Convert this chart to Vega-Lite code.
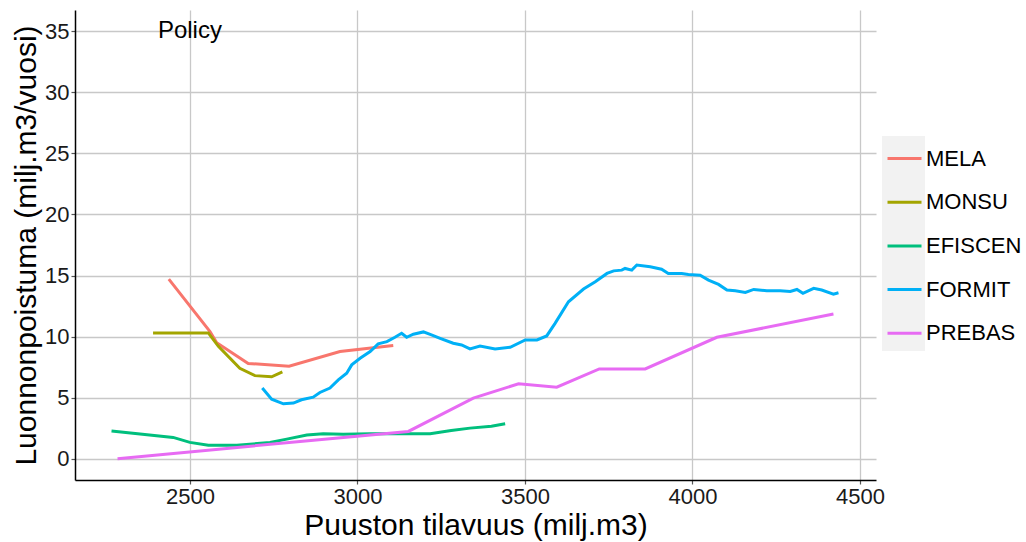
{
  "$schema": "https://vega.github.io/schema/vega-lite/v6.json",
  "width": 801,
  "height": 470,
  "autosize": {"type": "none"},
  "padding": {"left": 75, "top": 10, "right": 150, "bottom": 62},
  "background": "white",
  "config": {
    "view": {"stroke": null},
    "font": "Liberation Sans",
    "axis": {
      "domainColor": "#000000",
      "domainWidth": 1.5,
      "gridColor": "#c8c8c8",
      "gridWidth": 1.3,
      "tickColor": "#555555",
      "tickSize": 4,
      "tickWidth": 1.2,
      "labelFont": "Liberation Sans",
      "labelFontSize": 22,
      "labelColor": "#1a1a1a",
      "labelPadding": 2,
      "titleFont": "Liberation Sans",
      "titleFontSize": 30,
      "titleFontWeight": "normal",
      "titleColor": "#000000"
    }
  },
  "datasets": {
    "lines": [
      {"m": "MELA", "x": 2437, "y": 14.7},
      {"m": "MELA", "x": 2560, "y": 10.4},
      {"m": "MELA", "x": 2580, "y": 9.5},
      {"m": "MELA", "x": 2674, "y": 7.8},
      {"m": "MELA", "x": 2796, "y": 7.57},
      {"m": "MELA", "x": 2948, "y": 8.77},
      {"m": "MELA", "x": 3107, "y": 9.26},
      {"m": "MONSU", "x": 2390, "y": 10.3},
      {"m": "MONSU", "x": 2555, "y": 10.3},
      {"m": "MONSU", "x": 2585, "y": 9.2},
      {"m": "MONSU", "x": 2649, "y": 7.4},
      {"m": "MONSU", "x": 2694, "y": 6.8},
      {"m": "MONSU", "x": 2744, "y": 6.7},
      {"m": "MONSU", "x": 2776, "y": 7.1},
      {"m": "EFISCEN", "x": 2266, "y": 2.26},
      {"m": "EFISCEN", "x": 2450, "y": 1.74},
      {"m": "EFISCEN", "x": 2500, "y": 1.33},
      {"m": "EFISCEN", "x": 2555, "y": 1.09},
      {"m": "EFISCEN", "x": 2640, "y": 1.09},
      {"m": "EFISCEN", "x": 2739, "y": 1.33},
      {"m": "EFISCEN", "x": 2789, "y": 1.6},
      {"m": "EFISCEN", "x": 2849, "y": 1.93},
      {"m": "EFISCEN", "x": 2898, "y": 2.04},
      {"m": "EFISCEN", "x": 2958, "y": 1.99},
      {"m": "EFISCEN", "x": 3038, "y": 2.04},
      {"m": "EFISCEN", "x": 3217, "y": 2.04},
      {"m": "EFISCEN", "x": 3280, "y": 2.3},
      {"m": "EFISCEN", "x": 3336, "y": 2.5},
      {"m": "EFISCEN", "x": 3400, "y": 2.65},
      {"m": "EFISCEN", "x": 3441, "y": 2.86},
      {"m": "FORMIT", "x": 2716, "y": 5.78},
      {"m": "FORMIT", "x": 2744, "y": 4.87},
      {"m": "FORMIT", "x": 2779, "y": 4.49},
      {"m": "FORMIT", "x": 2809, "y": 4.55},
      {"m": "FORMIT", "x": 2833, "y": 4.82},
      {"m": "FORMIT", "x": 2868, "y": 5.04},
      {"m": "FORMIT", "x": 2888, "y": 5.42},
      {"m": "FORMIT", "x": 2918, "y": 5.78},
      {"m": "FORMIT", "x": 2943, "y": 6.45},
      {"m": "FORMIT", "x": 2968, "y": 7.0},
      {"m": "FORMIT", "x": 2983, "y": 7.68},
      {"m": "FORMIT", "x": 3008, "y": 8.22},
      {"m": "FORMIT", "x": 3038, "y": 8.77},
      {"m": "FORMIT", "x": 3062, "y": 9.4},
      {"m": "FORMIT", "x": 3088, "y": 9.58},
      {"m": "FORMIT", "x": 3112, "y": 9.94},
      {"m": "FORMIT", "x": 3132, "y": 10.27},
      {"m": "FORMIT", "x": 3147, "y": 9.94},
      {"m": "FORMIT", "x": 3167, "y": 10.19},
      {"m": "FORMIT", "x": 3197, "y": 10.38},
      {"m": "FORMIT", "x": 3221, "y": 10.13},
      {"m": "FORMIT", "x": 3247, "y": 9.85},
      {"m": "FORMIT", "x": 3286, "y": 9.45},
      {"m": "FORMIT", "x": 3311, "y": 9.31},
      {"m": "FORMIT", "x": 3336, "y": 8.99},
      {"m": "FORMIT", "x": 3366, "y": 9.23},
      {"m": "FORMIT", "x": 3411, "y": 8.99},
      {"m": "FORMIT", "x": 3456, "y": 9.12},
      {"m": "FORMIT", "x": 3501, "y": 9.72},
      {"m": "FORMIT", "x": 3536, "y": 9.72},
      {"m": "FORMIT", "x": 3565, "y": 10.05},
      {"m": "FORMIT", "x": 3590, "y": 11.08},
      {"m": "FORMIT", "x": 3630, "y": 12.85},
      {"m": "FORMIT", "x": 3675, "y": 13.89},
      {"m": "FORMIT", "x": 3710, "y": 14.49},
      {"m": "FORMIT", "x": 3745, "y": 15.17},
      {"m": "FORMIT", "x": 3765, "y": 15.38},
      {"m": "FORMIT", "x": 3789, "y": 15.44},
      {"m": "FORMIT", "x": 3799, "y": 15.58},
      {"m": "FORMIT", "x": 3819, "y": 15.44},
      {"m": "FORMIT", "x": 3834, "y": 15.86},
      {"m": "FORMIT", "x": 3874, "y": 15.71},
      {"m": "FORMIT", "x": 3908, "y": 15.52},
      {"m": "FORMIT", "x": 3928, "y": 15.17},
      {"m": "FORMIT", "x": 3968, "y": 15.17},
      {"m": "FORMIT", "x": 3988, "y": 15.09},
      {"m": "FORMIT", "x": 4023, "y": 15.03},
      {"m": "FORMIT", "x": 4048, "y": 14.62},
      {"m": "FORMIT", "x": 4078, "y": 14.27},
      {"m": "FORMIT", "x": 4103, "y": 13.81},
      {"m": "FORMIT", "x": 4128, "y": 13.75},
      {"m": "FORMIT", "x": 4158, "y": 13.62},
      {"m": "FORMIT", "x": 4183, "y": 13.86},
      {"m": "FORMIT", "x": 4222, "y": 13.75},
      {"m": "FORMIT", "x": 4262, "y": 13.75},
      {"m": "FORMIT", "x": 4292, "y": 13.7},
      {"m": "FORMIT", "x": 4312, "y": 13.86},
      {"m": "FORMIT", "x": 4330, "y": 13.54},
      {"m": "FORMIT", "x": 4362, "y": 13.95},
      {"m": "FORMIT", "x": 4386, "y": 13.81},
      {"m": "FORMIT", "x": 4421, "y": 13.48},
      {"m": "FORMIT", "x": 4436, "y": 13.59},
      {"m": "PREBAS", "x": 2284, "y": 0.0},
      {"m": "PREBAS", "x": 3152, "y": 2.23},
      {"m": "PREBAS", "x": 3346, "y": 4.96},
      {"m": "PREBAS", "x": 3481, "y": 6.13},
      {"m": "PREBAS", "x": 3595, "y": 5.85},
      {"m": "PREBAS", "x": 3722, "y": 7.35},
      {"m": "PREBAS", "x": 3859, "y": 7.35},
      {"m": "PREBAS", "x": 4073, "y": 9.94},
      {"m": "PREBAS", "x": 4421, "y": 11.85}
    ],
    "keys": [
      {"k": "k1"}, {"k": "k2"}, {"k": "k3"}, {"k": "k4"}, {"k": "k5"}
    ],
    "notes": [
      {"x": 2500, "y": 35, "label": "Policy"}
    ]
  },
  "layer": [
    {
      "data": {"name": "keys"},
      "mark": {"type": "square", "opacity": 0},
      "encoding": {
        "fill": {
          "field": "k",
          "type": "nominal",
          "scale": {
            "range": ["#f2f2f2", "#f2f2f2", "#f2f2f2", "#f2f2f2", "#f2f2f2"]
          },
          "legend": {
            "orient": "none",
            "legendX": 807,
            "legendY": 126,
            "title": null,
            "padding": 0,
            "symbolType": "square",
            "symbolSize": 1849,
            "symbolOpacity": 1,
            "symbolStrokeWidth": 0,
            "rowPadding": 0,
            "labelExpr": "''",
            "labelFontSize": 1,
            "zindex": 0
          }
        }
      }
    },
    {
      "data": {"name": "lines"},
      "mark": {"type": "line", "strokeWidth": 3},
      "encoding": {
        "x": {
          "field": "x",
          "type": "quantitative",
          "scale": {"domain": [2157, 4548], "nice": false, "zero": false},
          "axis": {"values": [2500, 3000, 3500, 4000, 4500], "format": "d", "title": "Puuston tilavuus (milj.m3)", "titlePadding": 3}
        },
        "y": {
          "field": "y",
          "type": "quantitative",
          "scale": {"domain": [-1.75, 36.75], "nice": false, "zero": false},
          "axis": {"values": [0, 5, 10, 15, 20, 25, 30, 35], "format": "d", "title": "Luonnonpoistuma (milj.m3/vuosi)", "titlePadding": 3}
        },
        "color": {
          "field": "m",
          "type": "nominal",
          "scale": {
            "domain": ["MELA", "MONSU", "EFISCEN", "FORMIT", "PREBAS"],
            "range": ["#F8766D", "#A3A500", "#00BF7D", "#00B0F6", "#E76BF3"]
          },
          "legend": {
            "orient": "none",
            "legendX": 811,
            "legendY": 130,
            "title": null,
            "padding": 0,
            "symbolType": "stroke",
            "symbolSize": 1156,
            "symbolStrokeWidth": 3,
            "rowPadding": 13.7,
            "labelOffset": 3,
            "labelFont": "Liberation Sans",
            "labelFontSize": 22,
            "labelColor": "#000000",
            "zindex": 1
          }
        }
      }
    },
    {
      "data": {"name": "notes"},
      "mark": {"type": "text", "font": "Liberation Sans", "fontSize": 24, "color": "#000000", "align": "center", "baseline": "middle"},
      "encoding": {
        "x": {"field": "x", "type": "quantitative"},
        "y": {"field": "y", "type": "quantitative"},
        "text": {"field": "label"}
      }
    }
  ]
}
